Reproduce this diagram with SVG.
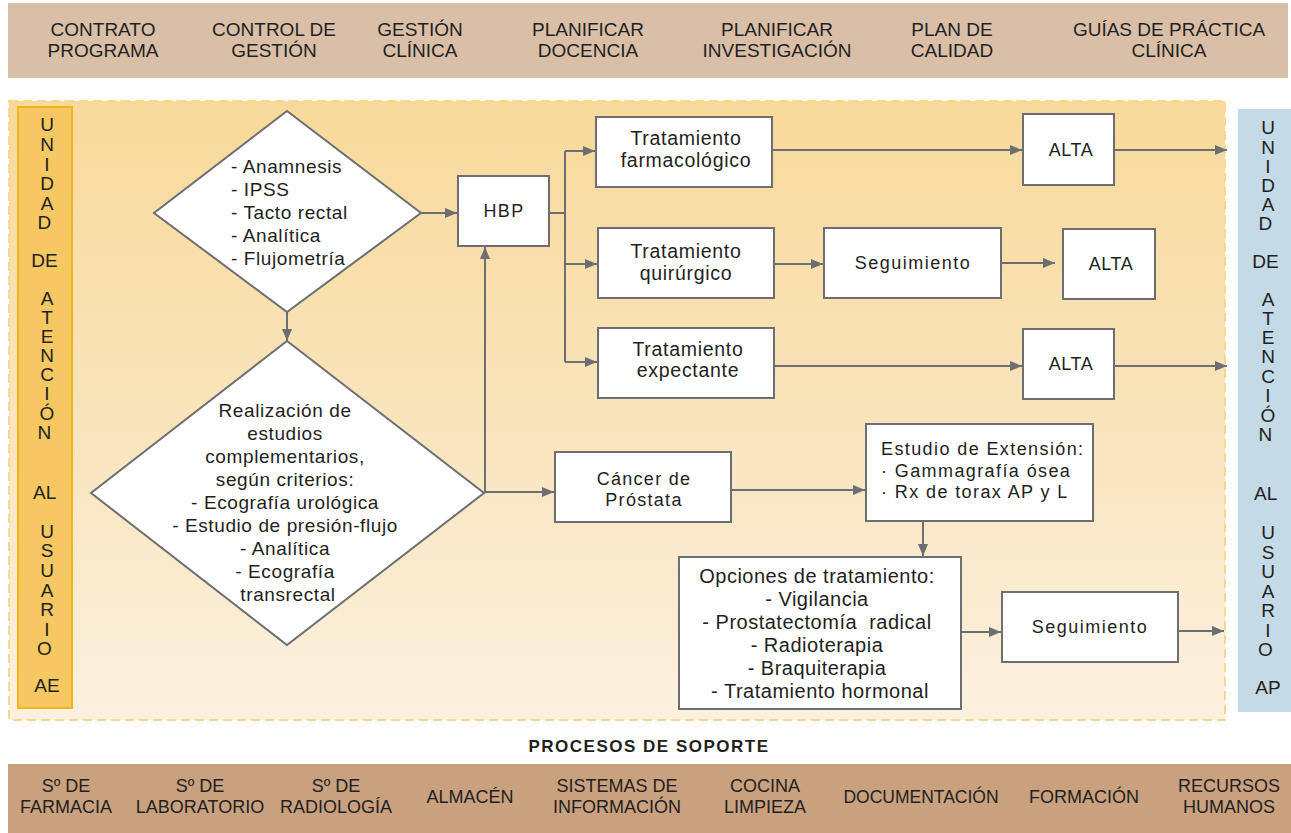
<svg xmlns="http://www.w3.org/2000/svg" width="1291" height="833" viewBox="0 0 1291 833">
  <defs>
    <linearGradient id="areaFill" x1="0" y1="0" x2="0" y2="1">
      <stop offset="0" stop-color="#f8d99a"/>
      <stop offset="0.5" stop-color="#f9e4bb"/>
      <stop offset="1" stop-color="#fbf1df"/>
    </linearGradient>
    <marker id="arrow" markerUnits="userSpaceOnUse" markerWidth="13" markerHeight="11" refX="12" refY="5" orient="auto">
      <path d="M0,0 L12,5 L0,10 z" fill="#6d6e71"/>
    </marker>
    <style>
      text { font-family: "Liberation Sans", Arial, sans-serif; fill: #231f20; }
      .bar { font-size: 19px; text-anchor: middle; }
      .sbar { font-size: 18px; text-anchor: middle; }
      .col { font-size: 19px; text-anchor: middle; }
      .node { fill: #ffffff; stroke: #6d6e71; stroke-width: 2; }
      .t19 { font-size: 19px; letter-spacing: 0.6px; }
      .tc { text-anchor: middle; }
      .wide { font-size: 18px; letter-spacing: 1.3px; text-anchor: middle; }
      .ext { font-size: 18px; letter-spacing: 1.4px; }
      .conn { fill: none; stroke: #6d6e71; stroke-width: 2; }
      .title { font-size: 17px; font-weight: bold; letter-spacing: 1.5px; text-anchor: middle; }
    </style>
  </defs>

  <!-- strategic processes -->
  <g id="top-bar">
    <rect x="8" y="3" width="1280" height="75" fill="#dabfa8"/>
    <text class="bar"><tspan x="103" y="36">CONTRATO</tspan><tspan x="103" y="57">PROGRAMA</tspan></text>
    <text class="bar"><tspan x="274" y="36">CONTROL DE</tspan><tspan x="274" y="57">GESTIÓN</tspan></text>
    <text class="bar"><tspan x="420" y="36">GESTIÓN</tspan><tspan x="420" y="57">CLÍNICA</tspan></text>
    <text class="bar"><tspan x="588" y="36">PLANIFICAR</tspan><tspan x="588" y="57">DOCENCIA</tspan></text>
    <text class="bar"><tspan x="777" y="36">PLANIFICAR</tspan><tspan x="777" y="57">INVESTIGACIÓN</tspan></text>
    <text class="bar"><tspan x="952" y="36">PLAN DE</tspan><tspan x="952" y="57">CALIDAD</tspan></text>
    <text class="bar"><tspan x="1169" y="36">GUÍAS DE PRÁCTICA</tspan><tspan x="1169" y="57">CLÍNICA</tspan></text>
  </g>

  <!-- key process area -->
  <g id="process-area">
    <rect x="9" y="101" width="1216" height="619" fill="url(#areaFill)" stroke="#f9d78f" stroke-width="2" stroke-dasharray="9 5"/>
  </g>

  <!-- specialised care column -->
  <g id="ae-column">
    <rect x="18" y="107" width="54" height="601" fill="#f5c862" stroke="#f1b41e" stroke-width="2"/>
    <text class="col">
      <tspan x="47" y="131">U</tspan><tspan x="47" y="151">N</tspan><tspan x="47" y="171">I</tspan><tspan x="47" y="190">D</tspan><tspan x="47" y="210">A</tspan><tspan x="47" y="229">D</tspan>
      <tspan x="47" y="267">DE</tspan>
      <tspan x="47" y="305">A</tspan><tspan x="47" y="324">T</tspan><tspan x="47" y="343">E</tspan><tspan x="47" y="362">N</tspan><tspan x="47" y="381">C</tspan><tspan x="47" y="400">I</tspan><tspan x="47" y="420">Ó</tspan><tspan x="47" y="439">N</tspan>
      <tspan x="47" y="499">AL</tspan>
      <tspan x="47" y="538">U</tspan><tspan x="47" y="557">S</tspan><tspan x="47" y="577">U</tspan><tspan x="47" y="597">A</tspan><tspan x="47" y="616">R</tspan><tspan x="47" y="636">I</tspan><tspan x="47" y="655">O</tspan>
      <tspan x="47" y="692">AE</tspan>
    </text>
  </g>

  <!-- primary care column -->
  <g id="ap-column">
    <rect x="1238" y="109" width="53" height="603" fill="#c4dae6"/>
    <text class="col">
      <tspan x="1268" y="134">U</tspan><tspan x="1268" y="154">N</tspan><tspan x="1268" y="173">I</tspan><tspan x="1268" y="192">D</tspan><tspan x="1268" y="211">A</tspan><tspan x="1268" y="230">D</tspan>
      <tspan x="1268" y="268">DE</tspan>
      <tspan x="1268" y="306">A</tspan><tspan x="1268" y="325">T</tspan><tspan x="1268" y="344">E</tspan><tspan x="1268" y="363">N</tspan><tspan x="1268" y="383">C</tspan><tspan x="1268" y="402">I</tspan><tspan x="1268" y="422">Ó</tspan><tspan x="1268" y="441">N</tspan>
      <tspan x="1268" y="500">AL</tspan>
      <tspan x="1268" y="539">U</tspan><tspan x="1268" y="559">S</tspan><tspan x="1268" y="578">U</tspan><tspan x="1268" y="598">A</tspan><tspan x="1268" y="617">R</tspan><tspan x="1268" y="637">I</tspan><tspan x="1268" y="656">O</tspan>
      <tspan x="1268" y="694">AP</tspan>
    </text>
  </g>

  <!-- connectors -->
  <g id="connectors" class="conn">
    <path d="M421,213 H457" marker-end="url(#arrow)"/>
    <path d="M287,312 V341" marker-end="url(#arrow)"/>
    <path d="M485,493 V247" marker-end="url(#arrow)"/>
    <path d="M484,492 H554" marker-end="url(#arrow)"/>
    <path d="M549,213 H565 M565,151 V362"/>
    <path d="M565,151 H595" marker-end="url(#arrow)"/>
    <path d="M565,264 H597" marker-end="url(#arrow)"/>
    <path d="M565,362 H597" marker-end="url(#arrow)"/>
    <path d="M772,150 H1022" marker-end="url(#arrow)"/>
    <path d="M1114,150 H1227" marker-end="url(#arrow)"/>
    <path d="M774,264 H823" marker-end="url(#arrow)"/>
    <path d="M1001,263 H1055" marker-end="url(#arrow)"/>
    <path d="M774,366 H1022" marker-end="url(#arrow)"/>
    <path d="M1114,366 H1227" marker-end="url(#arrow)"/>
    <path d="M731,490 H865" marker-end="url(#arrow)"/>
    <path d="M923,521 V556" marker-end="url(#arrow)"/>
    <path d="M961,632 H1001" marker-end="url(#arrow)"/>
    <path d="M1178,631 H1224" marker-end="url(#arrow)"/>
  </g>

  <g id="n-evaluation">
    <polygon class="node" points="287,111 421,213 287,312 154,213"/>
    <text class="t19">
      <tspan x="231" y="173">- Anamnesis</tspan>
      <tspan x="231" y="196">- IPSS</tspan>
      <tspan x="231" y="219">- Tacto rectal</tspan>
      <tspan x="231" y="242">- Analítica</tspan>
      <tspan x="231" y="265">- Flujometría</tspan>
    </text>
  </g>

  <g id="n-studies">
    <polygon class="node" points="287,341 484,493 287,645 91,493"/>
    <text class="t19 tc">
      <tspan x="288" y="417">Realización de</tspan>
      <tspan x="288" y="440">estudios</tspan>
      <tspan x="288" y="463">complementarios,</tspan>
      <tspan x="288" y="486">según criterios:</tspan>
      <tspan x="288" y="509">- Ecografía urológica</tspan>
      <tspan x="288" y="532">- Estudio de presión-flujo</tspan>
      <tspan x="288" y="555">- Analítica</tspan>
      <tspan x="288" y="578">- Ecografía</tspan>
      <tspan x="288" y="601">transrectal</tspan>
    </text>
  </g>

  <g id="n-hbp">
    <rect class="node" x="458" y="176" width="91" height="70"/>
    <text class="wide" x="504" y="217">HBP</text>
  </g>

  <g id="n-farm">
    <rect class="node" x="596" y="117" width="176" height="70"/>
    <text class="t19 tc" style="font-size:19.5px;letter-spacing:0.7px"><tspan x="686" y="145">Tratamiento</tspan><tspan x="686" y="167">farmacológico</tspan></text>
  </g>

  <g id="n-quir">
    <rect class="node" x="598" y="228" width="176" height="70"/>
    <text class="t19 tc" style="font-size:19.5px;letter-spacing:0.7px"><tspan x="686" y="258">Tratamiento</tspan><tspan x="686" y="280">quirúrgico</tspan></text>
  </g>

  <g id="n-exp">
    <rect class="node" x="598" y="328" width="176" height="70"/>
    <text class="t19 tc" style="font-size:19.5px;letter-spacing:0.7px"><tspan x="688" y="356">Tratamiento</tspan><tspan x="688" y="377">expectante</tspan></text>
  </g>

  <g id="n-alta1">
    <rect class="node" x="1023" y="114" width="91" height="71"/>
    <text class="wide" style="letter-spacing:0.5px" x="1071" y="156">ALTA</text>
  </g>

  <g id="n-seg1">
    <rect class="node" x="824" y="228" width="177" height="70"/>
    <text class="wide" style="letter-spacing:1.5px" x="913" y="269">Seguimiento</text>
  </g>

  <g id="n-alta2">
    <rect class="node" x="1063" y="229" width="92" height="70"/>
    <text class="wide" style="letter-spacing:0.5px" x="1111" y="270">ALTA</text>
  </g>

  <g id="n-alta3">
    <rect class="node" x="1023" y="329" width="91" height="70"/>
    <text class="wide" style="letter-spacing:0.5px" x="1071" y="370">ALTA</text>
  </g>

  <g id="n-cancer">
    <rect class="node" x="555" y="452" width="176" height="70"/>
    <text class="wide"><tspan x="644" y="485">Cáncer de</tspan><tspan x="644" y="506">Próstata</tspan></text>
  </g>

  <g id="n-extension">
    <rect class="node" x="866" y="424" width="227" height="97"/>
    <text class="ext">
      <tspan x="881" y="455">Estudio de Extensión:</tspan>
      <tspan x="881" y="477">· Gammagrafía ósea</tspan>
      <tspan x="881" y="498">· Rx de torax AP y L</tspan>
    </text>
  </g>

  <g id="n-options">
    <rect class="node" x="679" y="557" width="282" height="152"/>
    <text class="tc" style="font-size:20px;letter-spacing:0.5px">
      <tspan x="820" y="583">Opciones de tratamiento:</tspan>
      <tspan x="820" y="606">- Vigilancia</tspan>
      <tspan x="820" y="629">- Prostatectomía&#160; radical</tspan>
      <tspan x="820" y="652">- Radioterapia</tspan>
      <tspan x="820" y="675">- Braquiterapia</tspan>
      <tspan x="820" y="698">- Tratamiento hormonal</tspan>
    </text>
  </g>

  <g id="n-seg2">
    <rect class="node" x="1002" y="592" width="176" height="70"/>
    <text class="wide" style="letter-spacing:1.5px" x="1090" y="633">Seguimiento</text>
  </g>

  <!-- support processes -->
  <g id="support-bar">
    <text class="title" x="649" y="752">PROCESOS DE SOPORTE</text>
    <rect x="8" y="764" width="1283" height="69" fill="#c9a17f"/>
    <text class="sbar"><tspan x="66" y="792">Sº DE</tspan><tspan x="66" y="813">FARMACIA</tspan></text>
    <text class="sbar"><tspan x="200" y="792">Sº DE</tspan><tspan x="200" y="813">LABORATORIO</tspan></text>
    <text class="sbar"><tspan x="336" y="792">Sº DE</tspan><tspan x="336" y="813">RADIOLOGÍA</tspan></text>
    <text class="sbar" x="470" y="803">ALMACÉN</text>
    <text class="sbar"><tspan x="617" y="792">SISTEMAS DE</tspan><tspan x="617" y="813">INFORMACIÓN</tspan></text>
    <text class="sbar"><tspan x="765" y="792">COCINA</tspan><tspan x="765" y="813">LIMPIEZA</tspan></text>
    <text class="sbar" x="921" y="803" style="font-size:17.5px">DOCUMENTACIÓN</text>
    <text class="sbar" x="1084" y="803">FORMACIÓN</text>
    <text class="sbar"><tspan x="1229" y="792">RECURSOS</tspan><tspan x="1229" y="813">HUMANOS</tspan></text>
  </g>
</svg>
